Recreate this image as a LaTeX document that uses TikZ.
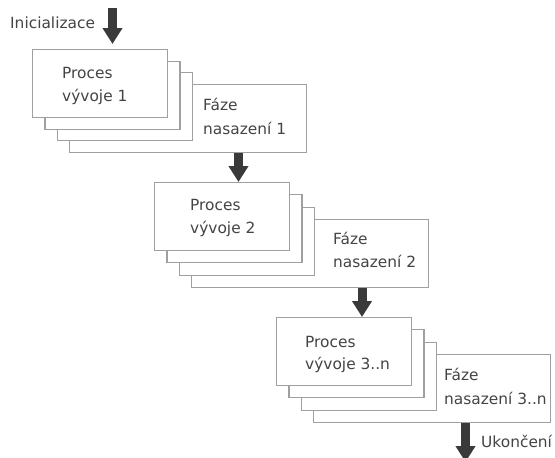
\documentclass[tikz,border=0pt]{standalone}
\usepackage{fontspec}
\setmainfont{DejaVu Sans}
\usetikzlibrary{arrows.meta}
\definecolor{edge}{HTML}{A0A0A0}
\definecolor{ink}{HTML}{3A3A3A}
\definecolor{txt}{HTML}{444444}
\begin{document}
\begin{tikzpicture}[x=1pt,y=-1pt,
  card/.style={draw=edge, line width=1.2pt, fill=white, anchor=north west,
    inner sep=0pt, minimum width=135pt, minimum height=68pt},
  widecard/.style={card, minimum width=237pt},
  lbl/.style={anchor=base west, inner sep=0pt, text=txt,
    font=\fontsize{15.4}{18}\selectfont},
  flow/.style={draw=ink, line width=9pt, -{Triangle[width=19pt,length=16pt]}}]
\useasboundingbox (0,0) rectangle (555,458);

% ---- stage 1 ----
\node[widecard] (f1) at (69,84) {};
\node[card] (c1c) at (56.7,72) {};
\node[card] (c1b) at (44.3,60.5) {};
\node[card] (p1) at (32,49) {};
\node[lbl] (p1a) at (62,78) {Proces};
\node[lbl] (p1b) at (62,101) {vývoje 1};
\node[lbl] (f1a) at (203,110) {Fáze};
\node[lbl] (f1b) at (203,134) {nasazení 1};

% ---- stage 2 ----
\node[widecard] (f2) at (191,219) {};
\node[card] (c2c) at (178.7,206.5) {};
\node[card] (c2b) at (166.3,194.2) {};
\node[card] (p2) at (154,182) {};
\node[lbl] (p2a) at (190,210.5) {Proces};
\node[lbl] (p2b) at (190,233) {vývoje 2};
\node[lbl] (f2a) at (333,244) {Fáze};
\node[lbl] (f2b) at (333,267.5) {nasazení 2};

% ---- stage 3..n ----
\node[widecard] (f3) at (313,354) {};
\node[card] (c3c) at (300.7,341.5) {};
\node[card] (c3b) at (288.3,329.2) {};
\node[card] (p3) at (276,317) {};
\node[lbl] (p3a) at (305,347) {Proces};
\node[lbl] (p3b) at (305,369.5) {vývoje 3..n};
\node[lbl] (f3a) at (444,380.5) {Fáze};
\node[lbl] (f3b) at (444,404) {nasazení 3..n};

% ---- start / end labels ----
\node[lbl] (init) at (10,28) {Inicializace};
\node[lbl] (fin) at (481,447) {Ukončení};

% ---- flow arrows ----
\coordinate (start) at (112.5,8);
\coordinate (a2) at (238.5,0);
\coordinate (a3) at (362,0);
\coordinate (done) at (465.5,462);
\draw[flow, shorten >=5pt] (start) -- (start |- p1.north);
\draw[flow] (f1.south -| a2) -- (a2 |- p2.north);
\draw[flow] (f2.south -| a3) -- (a3 |- p3.north);
\draw[flow] (f3.south -| done) -- (done);
\end{tikzpicture}
\end{document}
